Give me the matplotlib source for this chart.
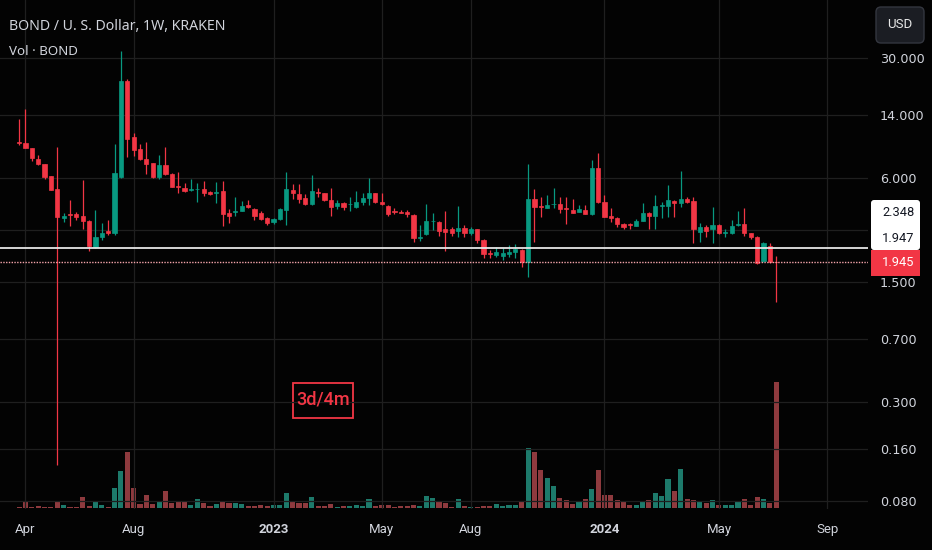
import numpy as np
import pandas as pd
import matplotlib
matplotlib.use('Agg')
import matplotlib.pyplot as plt
import matplotlib.dates as mdates
from matplotlib.patches import Rectangle, FancyBboxPatch
from matplotlib.transforms import IdentityTransform

# %% data: BOND / USD weekly candles (Kraken)
dates = pd.date_range('2022-03-28', periods=120, freq='W-MON')

opens = [9.70, 9.61, 8.99, 7.77, 7.27, 6.19, 5.20, 3.53, 3.70, 3.73,
         3.63, 3.40, 2.39, 2.73, 2.94, 2.88, 6.11, 22.0, 10.4, 8.87,
         7.77, 7.36, 6.11, 7.17, 6.36, 5.40, 5.27, 5.15, 5.17, 5.20,
         5.00, 4.95, 5.07, 3.78, 3.83, 3.88, 4.20, 3.98, 3.78, 3.53,
         3.35, 3.49, 3.93, 5.13, 4.87, 4.61, 4.26, 4.97, 4.93, 4.49,
         4.15, 4.32, 4.22, 4.09, 4.37, 4.61, 4.93, 4.37, 4.15, 3.85,
         3.83, 3.83, 3.68, 2.70, 2.84, 3.37, 3.35, 3.06, 3.02, 2.96,
         3.10, 2.88, 3.02, 2.63, 2.20, 2.15, 2.12, 2.18, 2.24, 2.30,
         1.96, 4.55, 4.12, 4.04, 4.22, 4.26, 4.01, 3.93, 3.83, 3.93,
         3.73, 6.89, 4.37, 3.63, 3.53, 3.26, 3.24, 3.18, 3.40, 3.78,
         3.63, 4.15, 4.15, 4.43, 4.32, 4.55, 4.43, 2.92, 3.14, 3.02,
         3.22, 2.88, 2.88, 3.20, 3.26, 2.88, 2.73, 1.98, 2.42, 1.96]
highs = [13.3, 15.2, 9.00, 8.19, 7.30, 6.20, 9.11, 3.78, 4.49, 3.80,
         5.87, 3.42, 3.93, 3.31, 3.44, 9.48, 32.9, 22.6, 11.0, 9.48,
         9.74, 7.40, 8.19, 9.11, 6.40, 6.53, 5.64, 5.95, 5.64, 5.79,
         5.05, 5.71, 5.79, 3.98, 4.68, 4.43, 4.49, 4.02, 3.88, 3.55,
         3.53, 4.04, 6.53, 5.56, 5.56, 4.87, 6.27, 5.27, 4.95, 5.27,
         4.49, 4.37, 4.68, 5.07, 4.93, 6.03, 4.95, 4.93, 4.18, 4.04,
         3.90, 3.93, 3.70, 3.22, 4.26, 3.78, 3.38, 3.88, 3.14, 4.15,
         3.22, 3.14, 3.06, 2.66, 2.30, 2.39, 2.36, 2.46, 2.49, 2.33,
         7.27, 5.20, 4.68, 4.80, 5.27, 4.68, 4.68, 4.55, 4.20, 4.20,
         7.66, 8.41, 4.80, 4.04, 3.55, 3.30, 3.31, 3.49, 4.32, 3.80,
         4.80, 4.37, 5.49, 4.47, 6.62, 4.68, 4.68, 3.31, 3.22, 4.09,
         3.25, 3.06, 3.44, 3.88, 4.04, 2.90, 2.75, 2.54, 2.52, 2.12]
lows = [9.35, 8.95, 7.56, 7.20, 5.95, 5.10, 0.129, 3.35, 3.18, 3.44,
        3.06, 2.27, 2.37, 2.63, 2.81, 2.81, 6.00, 7.98, 8.08, 7.70,
        6.36, 6.05, 5.95, 6.30, 5.30, 4.93, 5.00, 5.07, 4.37, 4.74,
        4.80, 4.32, 3.18, 3.31, 3.63, 3.85, 4.05, 3.44, 3.45, 3.22,
        3.26, 3.45, 3.22, 4.55, 4.32, 4.20, 4.20, 4.68, 4.45, 3.63,
        3.98, 3.93, 3.88, 4.05, 4.20, 4.20, 4.32, 4.20, 3.63, 3.73,
        3.75, 3.58, 2.56, 2.59, 2.80, 3.00, 2.77, 2.27, 2.77, 2.73,
        2.73, 2.81, 2.52, 2.06, 2.06, 2.09, 2.01, 2.09, 2.06, 1.83,
        1.60, 2.56, 3.58, 4.00, 4.04, 3.78, 3.26, 3.75, 3.80, 3.70,
        3.65, 4.30, 3.55, 3.35, 3.14, 3.06, 3.06, 3.15, 3.38, 3.02,
        3.02, 3.53, 3.58, 3.58, 4.09, 4.33, 2.52, 2.56, 2.73, 2.52,
        2.85, 2.73, 2.85, 3.18, 2.77, 2.66, 1.91, 1.95, 1.93, 1.14]
closes = [9.55, 8.99, 7.87, 7.27, 6.11, 5.13, 3.58, 3.63, 3.66, 3.58,
          3.40, 2.42, 2.73, 2.88, 2.90, 6.44, 22.0, 10.1, 8.76, 7.77,
          7.27, 6.11, 7.17, 6.36, 5.34, 5.34, 5.07, 5.20, 5.22, 4.93,
          4.87, 5.00, 3.73, 3.63, 3.88, 4.15, 4.09, 3.63, 3.49, 3.31,
          3.49, 3.98, 5.20, 4.93, 4.55, 4.26, 5.07, 4.90, 4.49, 4.09,
          4.32, 4.09, 4.26, 4.37, 4.61, 4.93, 4.37, 4.26, 3.73, 3.80,
          3.78, 3.73, 2.70, 2.73, 3.40, 3.40, 2.96, 2.92, 2.88, 3.10,
          2.88, 3.06, 2.63, 2.18, 2.17, 2.24, 2.21, 2.24, 2.33, 1.96,
          4.55, 4.09, 4.07, 4.20, 4.26, 3.98, 3.98, 3.78, 3.98, 3.73,
          6.89, 4.37, 3.58, 3.53, 3.26, 3.14, 3.20, 3.40, 3.78, 3.63,
          4.15, 4.20, 4.49, 4.32, 4.55, 4.37, 3.02, 3.14, 2.96, 3.22,
          2.88, 2.92, 3.18, 3.23, 2.88, 2.73, 1.93, 2.52, 1.95, 1.945]
# volume in relative units (no scale is shown on the chart)
volumes = [1, 5.3, 1, 2, 1, 1, 6.7, 2.7, 1, 1,
           10.3, 1.7, 7, 2.7, 1, 19.7, 37, 56, 19.7, 3.7,
           12.3, 3.7, 5.3, 16.7, 4.3, 5.3, 7, 2.3, 8.3, 5,
           1.7, 3.7, 7, 4.3, 5, 3.7, 1.7, 1.7, 2.7, 1.7,
           2.7, 3, 15, 6.7, 4.3, 4.3, 11, 1.7, 1.7, 3.7,
           1, 1.7, 1.7, 2.7, 1.7, 8.3, 2, 2.7, 2.7, 1,
           1.7, 2, 2.7, 1.7, 11.7, 10, 6, 5, 0.7, 9,
           1.3, 0.7, 0.7, 1.3, 1.3, 3.3, 1.3, 2.3, 3, 5.3,
           59.3, 55.7, 38, 30, 22, 9.3, 7.3, 3.3, 5.3, 8.7,
           18.3, 37.3, 12.7, 12.7, 7.3, 5.3, 2.3, 2.3, 6.3, 7.3,
           15, 11.7, 28.3, 16.3, 39, 8.7, 8, 5.3, 4.7, 7.3,
           2.3, 2.3, 2.3, 6.3, 8.7, 2.3, 10.7, 8.3, 5, 125.7]

price_ticks = [0.08, 0.16, 0.3, 0.7, 1.5, 3, 6, 14, 30]
month_ticks = ['2022-04-04', '2022-08-01', '2023-01-02', '2023-05-01',
               '2023-08-07', '2024-01-01', '2024-05-06', '2024-09-02']
month_labels = ['Apr', 'Aug', '2023', 'May', 'Aug', '2024', 'May', 'Sep']
hline_level = 2.348
last_price = 1.945

# %% styling
BG = '#030303'
GRID = '#1f1f1f'
TXT = '#d1d4dc'
GREEN = '#089981'
RED = '#f23645'
VGREEN = '#1d7a6b'
VRED = '#8e3a3e'

W, H = 932, 550
fig = plt.figure(figsize=(W / 100, H / 100), dpi=100, facecolor=BG)
pix = IdentityTransform()

# volume panel sits under the price pane
axv = fig.add_axes([0, (H - 507.5) / H, 868 / W, 125.5 / H])
ax = fig.add_axes([0, (H - 509) / H, 868 / W, 509 / H], sharex=axv)
axv.set_zorder(0)
ax.set_zorder(1)
ax.patch.set_visible(False)
axv.set_facecolor(BG)

x = mdates.date2num(dates)
o = np.array(opens)
c = np.array(closes)
up = c >= o

axv.bar(x, volumes, width=5.6, color=np.where(up, VGREEN, VRED), lw=0)
axv.set_ylim(0, max(volumes))
axv.axis('off')

cols = np.where(up, GREEN, RED)
ax.vlines(x, lows, highs, colors=cols, lw=0.9, zorder=3)
ax.bar(x, np.abs(c - o), bottom=np.minimum(o, c), width=4.6,
       color=cols, edgecolor=cols, lw=0.5, zorder=4)

ax.set_yscale('log')
ax.set_ylim(0.0716, 65.2)
ax.set_xlim(mdates.date2num(pd.Timestamp('2022-03-07')),
            mdates.date2num(pd.Timestamp('2024-10-17')))

ax.axhline(hline_level, color='#e6e6e6', lw=1.3, zorder=5)
ax.axhline(last_price, color='#f3a3aa', lw=1.0, ls=(0, (1, 1)), zorder=5)

ax.set_yticks(price_ticks)
ax.set_yticklabels(['' if v == 3 else '%.3f' % v for v in price_ticks])
ax.yaxis.set_minor_locator(matplotlib.ticker.NullLocator())
ax.set_xticks(mdates.date2num(pd.to_datetime(month_ticks)))
ax.set_xticklabels(month_labels)
for lab in ax.get_xticklabels():
    if lab.get_text().isdigit():
        lab.set_fontweight('bold')
    lab.set_family('Roboto')
for lab in ax.get_yticklabels():
    lab.set_family('Roboto')
ax.tick_params(axis='y', left=False, right=True, labelleft=False, labelright=True,
               length=0, pad=8.6, labelsize=9.2, labelcolor=TXT)
ax.tick_params(axis='x', length=0, pad=10, labelsize=9.5, labelcolor=TXT)
ax.grid(True, color=GRID, lw=0.9)
ax.set_axisbelow(True)
for s in ax.spines.values():
    s.set_visible(False)

# %% header texts
fig.text(9, H - 30, 'BOND / U. S. Dollar, 1W, KRAKEN', transform=pix,
         fontsize=10.2, color=TXT, family='Noto Sans', va='baseline')
fig.text(9, H - 55, 'Vol · BOND', transform=pix,
         fontsize=9.6, color=TXT, family='Noto Sans', va='baseline')

# USD button
fig.add_artist(FancyBboxPatch((876, H - 43), 48, 36, boxstyle='round,pad=0,rounding_size=5',
                              fc='#1b1d23', ec='#33363f', lw=1, transform=pix))
fig.text(900, H - 25, 'USD', transform=pix, ha='center', va='center',
         fontsize=9.5, color='#e8e8e8', family='Roboto')

# price labels on the scale
fig.add_artist(FancyBboxPatch((871, H - 250), 49, 50, boxstyle='round,pad=0,rounding_size=3',
                              fc='white', ec='none', transform=pix))
fig.add_artist(Rectangle((871, H - 276), 49, 26, fc=RED, ec='none', transform=pix))
fig.text(882, H - 213, '%.3f' % hline_level, transform=pix, va='center',
         fontsize=9.3, color='#131722', family='Roboto')
fig.text(882, H - 238, '1.947', transform=pix, va='center',
         fontsize=9.3, color='#131722', family='Roboto')
fig.text(882, H - 263, '%.3f' % last_price, transform=pix, va='center',
         fontsize=9.3, color='white', family='Roboto')

# 3d/4m note
fig.add_artist(Rectangle((293, H - 418), 60, 35, fc='none', ec=RED, lw=1.3, transform=pix))
fig.text(323, H - 400, '3d/4m', transform=pix, ha='center', va='center',
         fontsize=13, fontweight='medium', color=RED, family='Roboto')

fig.savefig('out.png', dpi=100, facecolor=BG)
